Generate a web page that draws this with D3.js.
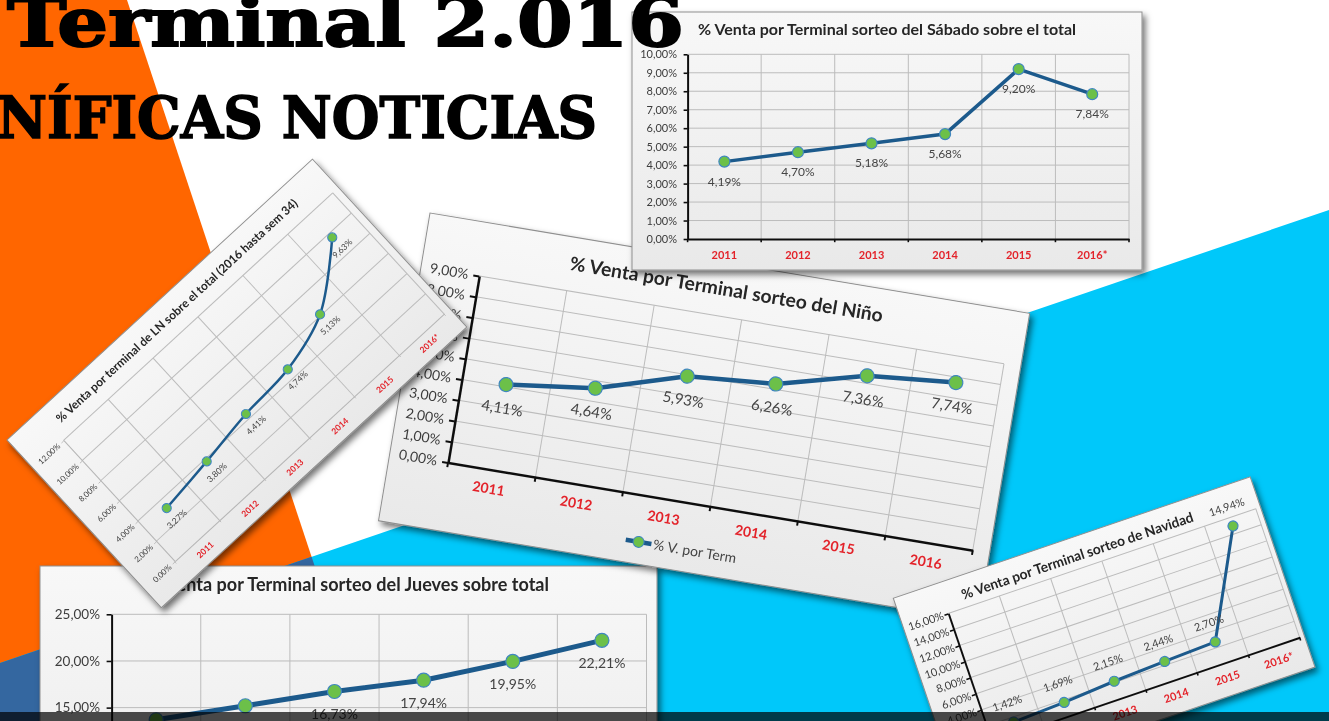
<!DOCTYPE html>
<html>
<head>
<meta charset="utf-8">
<script src="https://cdn.jsdelivr.net/npm/d3@7"></script>
<style>
html, body { margin: 0; padding: 0; background: #fff; overflow: hidden; }
svg { display: block; }
</style>
</head>
<body>
<div id="chart-container"></div>
<script>
// ---- data ----
var years = ["2011", "2012", "2013", "2014", "2015", "2016"];
var years_star = ["2011", "2012", "2013", "2014", "2015", "2016*"];

var sabado_title = "% Venta  por Terminal sorteo del Sábado sobre el total";
var sabado_values = [4.19, 4.70, 5.18, 5.68, 9.20, 7.84];
var sabado_labels = ["4,19%", "4,70%", "5,18%", "5,68%", "9,20%", "7,84%"];

var ln_title = "% Venta por terminal de LN sobre el total (2016 hasta sem 34)";
var ln_values = [3.27, 3.80, 4.41, 4.74, 6.10, 9.63];
var ln_labels = ["3,27%", "3,80%", "4,41%", "4,74%", "5,13%", "9,63%"];

var nino_title = "% Venta  por Terminal sorteo del Niño";
var nino_values = [4.11, 4.64, 5.93, 6.26, 7.36, 7.74];
var nino_labels = ["4,11%", "4,64%", "5,93%", "6,26%", "7,36%", "7,74%"];
var nino_legend = "% V. por Term";

var jueves_title = "% Venta  por Terminal sorteo del Jueves sobre total";
var jueves_values = [13.7, 15.2, 16.73, 17.94, 19.95, 22.21];
var jueves_labels = [null, null, "16,73%", "17,94%", "19,95%", "22,21%"];

var navidad_title = "% Venta  por Terminal sorteo de Navidad";
var navidad_values = [1.42, 1.69, 2.15, 2.44, 2.70, 14.94];
var navidad_labels = ["1,42%", "1,69%", "2,15%", "2,44%", "2,70%", "14,94%"];

var headline_1 = "Terminal 2.016";
var headline_2 = "NÍFICAS NOTICIAS";

// ---- setup ----
var svg_width = 1329;
var svg_height = 721;
var font = "Lato, 'Open Sans', sans-serif";
var serif = "'DejaVu Serif', 'Liberation Serif', serif";

var fmt_pct = function(v) { return d3.format(".2f")(v).replace(".", ",") + "%"; };

var svg = d3.select("#chart-container")
  .append("svg")
  .attr("width", svg_width)
  .attr("height", svg_height);

var defs = svg.append("defs");
defs.append("filter")
  .attr("id", "shadow")
  .attr("x", "-10%").attr("y", "-10%")
  .attr("width", "125%").attr("height", "130%")
  .append("feDropShadow")
  .attr("dx", 3).attr("dy", 4)
  .attr("stdDeviation", 3)
  .attr("flood-color", "#000")
  .attr("flood-opacity", 0.55);

var grad = defs.append("linearGradient")
  .attr("id", "card-bg")
  .attr("x1", 0).attr("y1", 0).attr("x2", 0).attr("y2", 1);
grad.append("stop").attr("offset", "0%").attr("stop-color", "#f8f8f8");
grad.append("stop").attr("offset", "100%").attr("stop-color", "#e9e9e9");

// background shapes
svg.append("rect")
  .attr("width", svg_width).attr("height", svg_height)
  .attr("fill", "#fff");
svg.append("polygon")
  .attr("points", "0,0 127,0 366,721 0,721")
  .attr("fill", "#ff6600");
svg.append("polygon")
  .attr("points", "0,663 1329,210 1329,721 0,721")
  .attr("fill", "#00c8fa");
svg.append("polygon")
  .attr("points", "0,663 311.6,556.8 366,721 0,721")
  .attr("fill", "#3467a0");

// ---- one chart card ----
function draw_card(c) {
  var outer = svg.append("g").attr("filter", "url(#shadow)");
  var card = outer.append("g")
    .attr("transform", "translate(" + c.tx + "," + c.ty + ") rotate(" + c.angle + ")");

  card.append("rect")
    .attr("width", c.w)
    .attr("height", c.h)
    .attr("fill", "url(#card-bg)")
    .attr("stroke", "#8f8f8f")
    .attr("stroke-width", 1);

  var x = d3.scaleBand().domain(c.cats).range([c.left, c.right]);
  var y = d3.scaleLinear().domain([0, c.ymax]).range([c.bottom, c.top]);
  var y_ticks = d3.range(0, c.ymax + c.ystep / 2, c.ystep);
  var cx = function(i) { return x(c.cats[i]) + x.bandwidth() / 2; };
  var bounds = c.cats.map(function(d) { return x(d); }).concat([c.right]);

  // grid
  card.append("g").selectAll("line")
    .data(y_ticks.slice(1))
    .enter().append("line")
    .attr("x1", c.left).attr("x2", c.right)
    .attr("y1", function(d) { return y(d); })
    .attr("y2", function(d) { return y(d); })
    .attr("stroke", "#bcbcbc").attr("stroke-width", 1);
  card.append("g").selectAll("line")
    .data(bounds.slice(1))
    .enter().append("line")
    .attr("x1", function(d) { return d; })
    .attr("x2", function(d) { return d; })
    .attr("y1", c.top).attr("y2", c.bottom)
    .attr("stroke", "#bcbcbc").attr("stroke-width", 1);

  // y axis
  var ya = card.append("g")
    .attr("transform", "translate(" + c.left + ",0)")
    .call(d3.axisLeft(y)
      .tickValues(y_ticks)
      .tickFormat(fmt_pct)
      .tickSize(c.tick_len)
      .tickSizeOuter(0)
      .tickPadding(c.left - c.tick_end - c.tick_len));
  ya.attr("font-family", font).attr("font-size", c.tick_size);
  ya.select(".domain").attr("stroke", c.axis_color).attr("stroke-width", c.axis_w);
  ya.selectAll(".tick line").attr("stroke", c.axis_color).attr("stroke-width", c.axis_w * 0.8);
  ya.selectAll(".tick text").attr("fill", "#3c3c3c");

  // x axis
  var xa = card.append("g")
    .attr("transform", "translate(0," + c.bottom + ")")
    .call(d3.axisBottom(x).tickValues([]).tickSizeOuter(0));
  xa.select(".domain").attr("stroke", c.axis_color).attr("stroke-width", c.axis_w);
  card.append("g").selectAll("line")
    .data(bounds)
    .enter().append("line")
    .attr("x1", function(d) { return d; })
    .attr("x2", function(d) { return d; })
    .attr("y1", c.bottom).attr("y2", c.bottom + c.tick_len * 0.8)
    .attr("stroke", c.axis_color).attr("stroke-width", c.axis_w * 0.8);

  card.append("g").selectAll("text")
    .data(c.cats)
    .enter().append("text")
    .attr("x", function(d) { return x(d) + x.bandwidth() / 2; })
    .attr("y", c.xlab_y)
    .attr("text-anchor", "middle")
    .attr("font-family", font)
    .attr("font-weight", "bold")
    .attr("font-size", c.xlab_size)
    .attr("fill", "#e3242b")
    .text(function(d) { return d; });

  // title
  card.append("text")
    .attr("x", c.title_x)
    .attr("y", c.title_y)
    .attr("text-anchor", c.title_anchor)
    .attr("font-family", font)
    .attr("font-weight", "bold")
    .attr("font-size", c.title_size)
    .attr("fill", "#262626")
    .attr("textLength", c.title_len)
    .attr("lengthAdjust", "spacingAndGlyphs")
    .text(c.title);

  // series
  var line = d3.line()
    .x(function(d, i) { return cx(i); })
    .y(function(d) { return y(d); })
    .curve(c.curve);
  card.append("path")
    .datum(c.values)
    .attr("d", line)
    .attr("fill", "none")
    .attr("stroke", "#1d5a8c")
    .attr("stroke-width", c.line_w)
    .attr("stroke-linejoin", "round");

  card.append("g").selectAll("circle")
    .data(c.values)
    .enter().append("circle")
    .attr("cx", function(d, i) { return cx(i); })
    .attr("cy", function(d) { return y(d); })
    .attr("r", c.r)
    .attr("fill", "#6cc04a")
    .attr("stroke", "#3f86c0")
    .attr("stroke-width", 1.2);

  card.append("g").selectAll("text")
    .data(c.values)
    .enter().append("text")
    .attr("x", function(d, i) { return cx(i); })
    .attr("y", function(d) { return y(d) + c.lab_dy; })
    .attr("text-anchor", "middle")
    .attr("font-family", font)
    .attr("font-size", c.lab_size)
    .attr("fill", "#444")
    .text(function(d, i) { return c.labels[i]; });

  return card;
}

// ---- cards, back to front ----
draw_card({
  tx: 40, ty: 566, angle: 0, w: 617, h: 300,
  left: 71.6, right: 606.5, top: 48.3, bottom: 281.6,
  ymax: 25, ystep: 5, cats: years_star,
  values: jueves_values, labels: jueves_labels, title: jueves_title,
  title_x: 308, title_y: 25, title_anchor: "middle", title_len: 402, title_size: 18,
  tick_end: 60, tick_len: 5, tick_size: 13.5,
  xlab_y: 300, xlab_size: 13,
  lab_dy: 28, lab_size: 14, r: 7, line_w: 5,
  axis_color: "#111", axis_w: 2, curve: d3.curveLinear
});

var nino = draw_card({
  tx: 430, ty: 213, angle: 9.5, w: 608, h: 312,
  left: 59, right: 591, top: 54, bottom: 243,
  ymax: 9, ystep: 1, cats: years,
  values: nino_values, labels: nino_labels, title: nino_title,
  title_x: 305, title_y: 33, title_anchor: "middle", title_len: 317, title_size: 19,
  tick_end: 48, tick_len: 6, tick_size: 14,
  xlab_y: 267, xlab_size: 14,
  lab_dy: 29, lab_size: 15, r: 7, line_w: 4.5,
  axis_color: "#111", axis_w: 2.5, curve: d3.curveLinear
});
// legend of the Niño card
nino.append("line")
  .attr("x1", 247).attr("x2", 273)
  .attr("y1", 290).attr("y2", 290)
  .attr("stroke", "#1d5a8c").attr("stroke-width", 4.5);
nino.append("circle")
  .attr("cx", 260).attr("cy", 290).attr("r", 5.5)
  .attr("fill", "#6cc04a").attr("stroke", "#3f86c0");
nino.append("text")
  .attr("x", 275).attr("y", 295)
  .attr("font-family", font).attr("font-size", 14)
  .attr("fill", "#444")
  .text(nino_legend);

draw_card({
  tx: 632, ty: 12, angle: 0, w: 510, h: 258,
  left: 55.6, right: 497, top: 42.3, bottom: 227,
  ymax: 10, ystep: 1, cats: years_star,
  values: sabado_values, labels: sabado_labels, title: sabado_title,
  title_x: 66, title_y: 23, title_anchor: "start", title_len: 378, title_size: 15,
  tick_end: 45, tick_len: 4, tick_size: 11,
  xlab_y: 247, xlab_size: 11,
  lab_dy: 24, lab_size: 12, r: 5.5, line_w: 3.5,
  axis_color: "#111", axis_w: 2, curve: d3.curveLinear
});

draw_card({
  tx: 7, ty: 440, angle: -42.6, w: 415, h: 228,
  left: 41, right: 407, top: 38.6, bottom: 203,
  ymax: 12, ystep: 2, cats: years_star,
  values: ln_values, labels: ln_labels, title: ln_title,
  title_x: 51, title_y: 24, title_anchor: "start", title_len: 323, title_size: 12,
  tick_end: 35, tick_len: 3, tick_size: 8,
  xlab_y: 218, xlab_size: 8.5,
  lab_dy: 18, lab_size: 8.5, r: 4.5, line_w: 2.5,
  axis_color: "#b5b5b5", axis_w: 1, curve: d3.curveCatmullRom
});

draw_card({
  tx: 893.3, ty: 598.3, angle: -18.8, w: 377, h: 201,
  left: 47, right: 372, top: 32, bottom: 168,
  ymax: 16, ystep: 2, cats: years_star,
  values: navidad_values, labels: navidad_labels, title: navidad_title,
  title_x: 188, title_y: 24, title_anchor: "middle", title_len: 244, title_size: 14,
  tick_end: 42, tick_len: 4, tick_size: 11,
  xlab_y: 187, xlab_size: 11,
  lab_dy: -16, lab_size: 11, r: 5, line_w: 3,
  axis_color: "#111", axis_w: 2, curve: d3.curveLinear
});

// ---- headline ----
svg.append("text")
  .attr("x", 7).attr("y", 46)
  .attr("font-family", serif)
  .attr("font-weight", "bold")
  .attr("font-size", 68)
  .attr("fill", "#000")
  .attr("stroke", "#000")
  .attr("stroke-width", 2)
  .attr("textLength", 677)
  .attr("lengthAdjust", "spacingAndGlyphs")
  .text(headline_1);
svg.append("text")
  .attr("x", -3).attr("y", 138)
  .attr("font-family", serif)
  .attr("font-weight", "bold")
  .attr("font-size", 57)
  .attr("fill", "#000")
  .attr("stroke", "#000")
  .attr("stroke-width", 1.6)
  .attr("textLength", 600)
  .attr("lengthAdjust", "spacingAndGlyphs")
  .text(headline_2);

// bottom bar
svg.append("rect")
  .attr("x", 0).attr("y", 712)
  .attr("width", svg_width).attr("height", 9)
  .attr("fill", "#000").attr("fill-opacity", 0.7);
</script>
</body>
</html>
